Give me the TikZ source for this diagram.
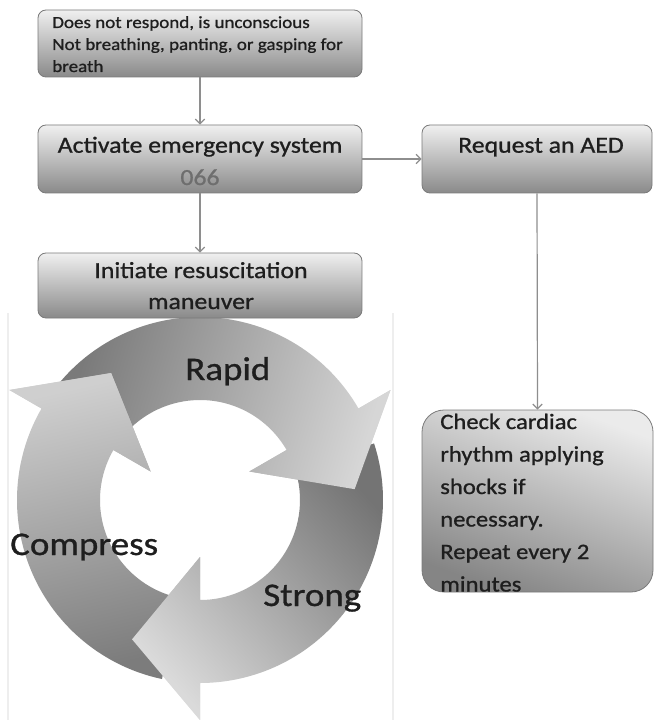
\documentclass[tikz,border=0pt]{standalone}
\usepackage{fontspec}
\setmainfont{Carlito}[FakeStretch=1.12, FakeBold=0.9]
\usetikzlibrary{arrows.meta}
\definecolor{txt}{HTML}{1E1E1E}
\definecolor{numgray}{HTML}{6E6E6E}
\definecolor{linegray}{HTML}{8E8E8E}
\definecolor{boxedge}{HTML}{7A7A7A}
\definecolor{framegray}{HTML}{EEEEEE}
\definecolor{rdark}{HTML}{7A7A7A}
\definecolor{rlight}{HTML}{D6D6D6}
\definecolor{sdark}{HTML}{747474}
\definecolor{slight}{HTML}{DADADA}
\definecolor{cdark}{HTML}{7C7C7C}
\definecolor{clight}{HTML}{CFCFCF}
\tikzset{
  box/.style={draw=boxedge, line width=0.6pt, rounded corners=6pt,
    top color=black!6, bottom color=black!46, inner sep=0pt},
  checkbox/.style={draw=boxedge, line width=0.6pt, rounded corners=16.5pt,
    top color=black!8, bottom color=black!48, shading angle=-20, inner sep=0pt},
  conn/.style={draw=linegray, line width=0.9pt,
    -{Straight Barb[length=3.5pt,width=7pt,line width=0.9pt]}},
  smalltxt/.style={font=\fontsize{12.75}{16.5}\selectfont, text=txt, inner sep=0pt, anchor=base west},
  midtxt/.style={font=\fontsize{17.25}{21}\selectfont, text=txt, inner sep=0pt, anchor=base},
  chktxt/.style={font=\fontsize{16.5}{20}\selectfont, text=txt, inner sep=0pt, anchor=base west},
  bigtxt/.style={font=\fontsize{24.75}{30}\selectfont, text=txt, inner sep=0pt, anchor=base west},
  frameline/.style={draw=framegray, line width=0.8pt},
  cyc/.style n args={3}{insert path={
    (#1:183) arc[start angle=#1, end angle=#2, radius=183]
    -- (#2:220) -- (#3:155) -- (#2:57) -- (#2:100)
    arc[start angle=#2, end angle=#1, radius=100] -- cycle}},
  rapidsh/.style={bottom color=rdark, top color=rlight, shading angle=-107},
  strongsh/.style={bottom color=sdark, top color=slight, shading angle=132},
  compsh/.style={bottom color=cdark, top color=clight, shading angle=13},
}
\begin{document}
\begin{tikzpicture}[x=0.75pt, y=-0.75pt]
\fill[white] (0,0) rectangle (654,720);
\useasboundingbox (0,0) rectangle (654,720);

% faint frame of the cycle picture
\draw[frameline] (8,313) -- (8,720);
\draw[frameline] (393,313) -- (393,720);

% cycle of arrows
\begin{scope}[shift={(200,500)}, y=0.75pt]
  \shade[rapidsh, cyc={140}{30}{4}];
  \shade[strongsh, cyc={18}{-90}{-116}];
  \shade[compsh, cyc={-102}{-210}{-235}];
  \begin{scope}
    \clip (30:220) -- (4:155) -- (30:57) -- cycle;
    \shade[rapidsh, cyc={140}{30}{4}];
  \end{scope}
  \begin{scope}
    \clip (-90:220) -- (-116:155) -- (-90:57) -- cycle;
    \shade[strongsh, cyc={18}{-90}{-116}];
  \end{scope}
  \begin{scope}
    \clip (-210:220) -- (-235:155) -- (-210:57) -- cycle;
    \shade[compsh, cyc={-102}{-210}{-235}];
  \end{scope}
\end{scope}

\node[bigtxt] (rapid) at (185,380) {Rapid};
\node[bigtxt] (compress) at (10,555) {Compress};
\node[bigtxt] (strong) at (263,606) {Strong};

% boxes
\node[box, minimum width=243pt, minimum height=50.25pt] (top) at (200,43.5) {};
\node[box, minimum width=243pt, minimum height=51pt] (act) at (200,159) {};
\node[box, minimum width=243pt, minimum height=48.75pt] (init) at (200,285.5) {};
\node[box, minimum width=172.5pt, minimum height=51pt] (req) at (537,159) {};
\node[checkbox, minimum width=173.25pt, minimum height=136.5pt] (chk) at (537.5,501) {};

% texts
\node[smalltxt] (t1) at (52,28) {Does not respond, is unconscious};
\node[smalltxt] (t2) at (52,50) {Not breathing, panting, or gasping for};
\node[smalltxt] (t3) at (52,72) {breath};

\node[midtxt] (a1) at (200,152.7) {Activate emergency system};
\node[midtxt, text=numgray] (a2) at (200,185) {066};

\node[midtxt] (r1) at (541,152.7) {Request an AED};

\node[midtxt] (i1) at (201,278) {Initiate resuscitation};
\node[midtxt] (i2) at (201,309) {maneuver};

\node[chktxt] (c1) at (440,429) {Check cardiac};
\node[chktxt] (c2) at (440,461.5) {rhythm applying};
\node[chktxt] (c3) at (440,494) {shocks if};
\node[chktxt] (c4) at (440,526.5) {necessary.};
\node[chktxt] (c5) at (440,559) {Repeat every 2};
\node[chktxt] (c6) at (440,591.5) {minutes};

% connectors
\draw[conn] (top.south) -- (act.north);
\draw[conn] (act.south) -- (init.north);
\draw[conn] (act.east) -- (req.west);
\draw[conn] (req.south) -- (chk.north);
\end{tikzpicture}
\end{document}
